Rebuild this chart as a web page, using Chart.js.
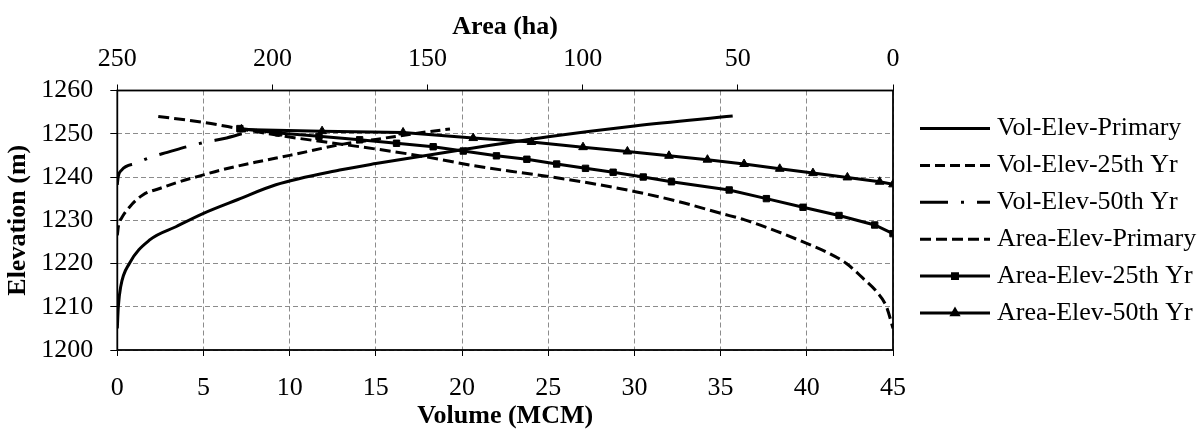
<!DOCTYPE html>
<html>
<head>
<meta charset="utf-8">
<script src="https://cdn.jsdelivr.net/npm/chart.js@4.4.0/dist/chart.umd.min.js"></script>
<style>
  body { margin: 0; background: #fff; }
</style>
</head>
<body>
<canvas id="elevChart" width="1200" height="432"></canvas>
<script>
// volume (MCM) vs elevation (m)
const volPrimaryX = [0, 0.06, 0.2, 0.7, 1.9, 3.4, 5, 7, 9.2, 12.9, 15, 20, 25, 30, 35.7];
const volPrimaryY = [1205, 1210, 1214.7, 1220, 1225.5, 1228.5, 1231.6, 1234.8, 1238.2, 1241.6, 1243.1, 1246.3, 1249.3, 1251.8, 1254.1];

const vol25X = [0, 0.08, 0.25, 0.74, 1.5, 2.5, 3.44, 5, 6, 8, 10, 13.1, 15, 17.9, 19.3];
const vol25Y = [1226.5, 1229, 1230.5, 1233.2, 1235.9, 1237.4, 1238.7, 1240.5, 1241.6, 1243.4, 1245, 1247.6, 1248.7, 1250.4, 1251.1];

const vol50X = [0, 0.05, 0.25, 1.1, 1.95, 2.9, 4.4, 5.3, 6.2, 7.7, 8.2];
const vol50Y = [1238.2, 1240, 1241.6, 1243.2, 1244.6, 1245.7, 1247.4, 1248.2, 1248.9, 1250.5, 1250.9];

// area (ha) vs elevation (m)
const areaPrimaryX = [236.8, 222, 210, 196, 181, 166, 150, 135, 120, 111, 97, 83, 69, 55.5, 47.8, 37.6, 28, 21, 15, 9.7, 5.3, 2.1, 0];
const areaPrimaryY = [1254, 1252.6, 1251.1, 1249.4, 1247.9, 1246.4, 1244.6, 1242.6, 1241, 1240.1, 1238.5, 1236.6, 1234.3, 1231.6, 1230.1, 1227.5, 1224.7, 1222.5, 1220, 1216.6, 1213.5, 1210, 1205];

const area25X = [210.5, 198, 185, 171.9, 160, 148.2, 138.5, 127.8, 118, 108.4, 99.1, 90.2, 80.5, 71.4, 52.8, 40.8, 29, 17.4, 5.9, 0];
const area25Y = [1251.2, 1250.2, 1249.4, 1248.6, 1247.8, 1247, 1246, 1244.9, 1244.1, 1243, 1242, 1241.1, 1240, 1238.9, 1237, 1235, 1233, 1231.1, 1228.9, 1226.9];

const area50X = [210, 184, 157.9, 135.3, 116.5, 99.9, 85.6, 72.2, 59.8, 48, 36.5, 25.8, 14.7, 4.3, 0];
const area50Y = [1251, 1250.6, 1250.3, 1249, 1248.1, 1246.9, 1245.9, 1244.9, 1244, 1243, 1241.9, 1240.9, 1239.9, 1238.9, 1238.3];

function pts(xs, ys) {
  return xs.map((x, i) => ({x: x, y: ys[i]}));
}

Chart.defaults.font.family = '"Liberation Serif", "Times New Roman", serif';
Chart.defaults.font.size = 26;
Chart.defaults.color = '#000';

const gridGray = '#8c8c8c';

// solid black frame round the plot area
const plotFrame = {
  id: 'plotFrame',
  beforeDatasetsDraw(chart) {
    const a = chart.chartArea;
    const ctx = chart.ctx;
    ctx.save();
    ctx.strokeStyle = '#000';
    ctx.lineWidth = 1.8;
    ctx.setLineDash([]);
    ctx.strokeRect(a.left, a.top, a.right - a.left, a.bottom - a.top);
    ctx.restore();
  }
};

const sideLegend = {
  id: 'sideLegend',
  afterDraw(chart) {
    const ctx = chart.ctx;
    chart.data.datasets.forEach((ds, i) => {
      const y = 128.5 + i * 36.9;
      ctx.save();
      ctx.strokeStyle = '#000';
      ctx.fillStyle = '#000';
      ctx.lineWidth = 3;
      ctx.setLineDash(ds.borderDash || []);
      ctx.beginPath();
      ctx.moveTo(920, y);
      ctx.lineTo(990, y);
      ctx.stroke();
      ctx.setLineDash([]);
      if (ds.pointRadius > 0) {
        Chart.helpers.drawPoint(ctx, {pointStyle: ds.pointStyle, radius: 3.5, borderWidth: 1, rotation: 0}, 955, y);
      }
      ctx.font = '26px "Liberation Serif"';
      ctx.textBaseline = 'middle';
      ctx.fillText(ds.label, 997, y);
      ctx.restore();
    });
  }
};

const smooth = {showLine: true, borderColor: '#000', backgroundColor: '#000', borderWidth: 3, pointRadius: 0, cubicInterpolationMode: 'monotone'};

new Chart(document.getElementById('elevChart'), {
  type: 'scatter',
  data: {
    datasets: [
      Object.assign({label: 'Vol-Elev-Primary', data: pts(volPrimaryX, volPrimaryY), xAxisID: 'x'}, smooth),
      Object.assign({label: 'Vol-Elev-25th Yr', data: pts(vol25X, vol25Y), xAxisID: 'x', borderDash: [10, 5]}, smooth),
      Object.assign({label: 'Vol-Elev-50th Yr', data: pts(vol50X, vol50Y), xAxisID: 'x', borderDash: [28, 13, 3, 13]}, smooth),
      Object.assign({label: 'Area-Elev-Primary', data: pts(areaPrimaryX, areaPrimaryY), xAxisID: 'x2', borderDash: [11, 5]}, smooth),
      {label: 'Area-Elev-25th Yr', data: pts(area25X, area25Y), xAxisID: 'x2', showLine: true,
       borderColor: '#000', backgroundColor: '#000', borderWidth: 3, tension: 0,
       pointStyle: 'rect', pointRadius: 4.5, pointBorderWidth: 1},
      {label: 'Area-Elev-50th Yr', data: pts(area50X, area50Y), xAxisID: 'x2', showLine: true,
       borderColor: '#000', backgroundColor: '#000', borderWidth: 3, tension: 0,
       pointStyle: 'triangle', pointRadius: 5, pointBorderWidth: 1}
    ]
  },
  options: {
    responsive: false,
    animation: false,
    layout: {padding: {left: 0, top: 0, bottom: 0, right: 307}},
    plugins: {legend: {display: false}, tooltip: {enabled: false}},
    scales: {
      x: {
        type: 'linear', position: 'bottom', min: 0, max: 45,
        ticks: {stepSize: 5, padding: 17, maxRotation: 0, callback: v => String(v)},
        grid: {color: gridGray, lineWidth: 1, tickColor: '#000', tickLength: 6},
        border: {display: false, dash: [5, 3]},
        title: {display: true, text: 'Volume (MCM)', font: {weight: 'bold'}, padding: {top: 0, bottom: 0}},
        afterFit(s) { s.height = 82; }
      },
      x2: {
        type: 'linear', position: 'top', min: 0, max: 250, reverse: true,
        ticks: {stepSize: 50, padding: 10, maxRotation: 0, callback: v => String(v)},
        grid: {drawOnChartArea: false, tickColor: '#000', tickLength: 6},
        border: {display: false},
        title: {display: true, text: 'Area (ha)', font: {weight: 'bold'}, padding: {top: 12, bottom: 0}},
        afterFit(s) { s.height = 90.5; }
      },
      y: {
        type: 'linear', position: 'left', min: 1200, max: 1260,
        ticks: {stepSize: 10, padding: 17, callback: v => String(v)},
        grid: {color: gridGray, lineWidth: 1, tickColor: '#000', tickLength: 7},
        border: {display: false, dash: [5, 3]},
        title: {display: true, text: 'Elevation (m)', font: {weight: 'bold'}, padding: {top: 3, bottom: 0}},
        afterFit(s) { s.width = 117.3; }
      },
      y2: {
        type: 'linear', position: 'right', min: 1200, max: 1260,
        ticks: {display: false},
        grid: {drawOnChartArea: false, drawTicks: false},
        border: {display: false},
        afterFit(s) { s.width = 0; }
      }
    }
  },
  plugins: [plotFrame, sideLegend]
});
</script>
</body>
</html>
